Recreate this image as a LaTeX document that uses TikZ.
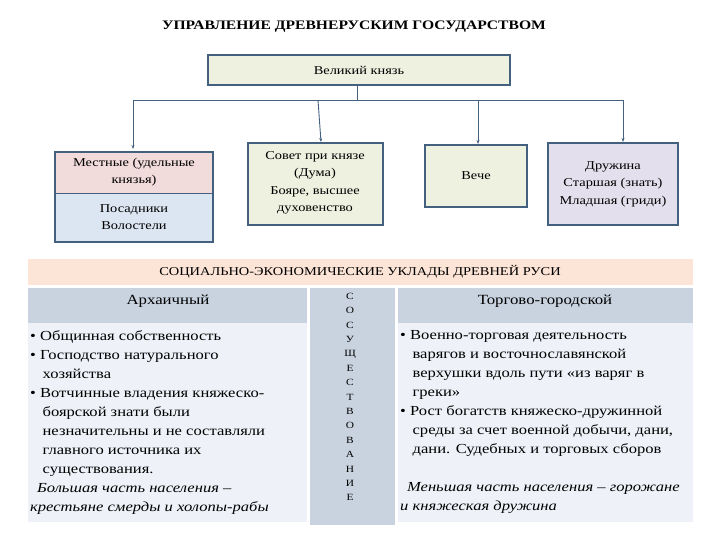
\documentclass[tikz,border=0pt]{standalone}
\usepackage{fontspec}
\setmainfont[FakeStretch=1.2]{Liberation Serif}
\usetikzlibrary{arrows.meta}
\definecolor{bord}{HTML}{44607F}
\definecolor{gfill}{HTML}{EEF0E0}
\definecolor{pink}{HTML}{F2DCDB}
\definecolor{lblue}{HTML}{DCE6F2}
\definecolor{lav}{HTML}{E4DFEC}
\definecolor{peach}{HTML}{FCE4D6}
\definecolor{hdr}{HTML}{C9D3E0}
\definecolor{body}{HTML}{EEF2F8}
\tikzset{box/.style={draw=bord,line width=1.3pt},
 txt/.style={align=center,font=\fontsize{12}{17.5}\selectfont},
 arr/.style={draw=bord,line width=0.9pt,-{Stealth[length=4pt]}},
 ln/.style={draw=bord,line width=0.9pt},
 lst/.style={align=left,anchor=north west,font=\fontsize{13.8}{19}\selectfont,inner sep=0pt}}
\begin{document}
\begin{tikzpicture}[x=1pt,y=-1pt]
\useasboundingbox (0,0) rectangle (720,540);
\node[font=\bfseries\fontsize{13}{15}\selectfont] (title) at (354,27) {УПРАВЛЕНИЕ ДРЕВНЕРУСКИМ ГОСУДАРСТВОМ};
\fill[gfill] (208,55) rectangle (510,85);
\draw[box] (208,55) rectangle (510,85);
\node[txt] (vk) at (359,70) {Великий князь};
% left box
\fill[pink] (55,152) rectangle (213,193);
\fill[lblue] (55,193) rectangle (213,242);
\draw[box] (55,152) rectangle (213,242);
\draw[bord,line width=0.8pt] (55,193) -- (213,193);
\node[txt] (m) at (134,172) {Местные (удельные\\князья)};
\node[txt] (p) at (134,217) {Посадники\\Волостели};
\fill[gfill] (248,143) rectangle (383,225); \draw[box] (248,143) rectangle (383,225);
\node[txt] (sov) at (315,183) {Совет при князе\\(Дума)\\Бояре, высшее\\духовенство};
\fill[gfill] (425,145) rectangle (527,207); \draw[box] (425,145) rectangle (527,207);
\node[txt] (ve) at (476,176) {Вече};
\fill[lav] (548,143) rectangle (678,225); \draw[box] (548,143) rectangle (678,225);
\node[txt] (dr) at (613,184) {Дружина\\Старшая (знать)\\Младшая (гриди)};
% connectors
\coordinate (j) at (357,100);
\coordinate (l) at (133,100); \coordinate (r) at (623,100);
\draw[ln] (357,85) -- (j);
\draw[ln] (l) -- (r);
\draw[arr] (l) -- (133,149);
\draw[arr] (318,100) -- (321,142);
\draw[arr] (478,100) -- (478,144);
\draw[arr] (r) -- (623,142);
% band
\fill[peach] (28,259) rectangle (693,285);
\node[txt] (band) at (360,272) {СОЦИАЛЬНО-ЭКОНОМИЧЕСКИЕ УКЛАДЫ ДРЕВНЕЙ РУСИ};
% lower table
\fill[hdr] (28,288) rectangle (307,323);
\fill[body] (28,323) rectangle (307,522);
\fill[hdr] (310,288) rectangle (395,525);
\fill[hdr] (398,288) rectangle (693,323);
\fill[body] (398,323) rectangle (693,522);
\node[font=\fontsize{14}{16}\selectfont] (a) at (168,301) {Архаичный};
\node[font=\fontsize{14}{16}\selectfont] (t) at (545,301) {Торгово-городской};
\node[align=center,font=\fontsize{9.5}{14.4}\selectfont] (s) at (350,397) {С\\О\\С\\У\\Щ\\Е\\С\\Т\\В\\О\\В\\А\\Н\\И\\Е};
\node[lst] (lt) at (30,330) {\textbullet\ Общинная собственность\\
\textbullet\ Господство натурального\\
\hspace*{0.9em}хозяйства\\
\textbullet\ Вотчинные владения княжеско-\\
\hspace*{0.9em}боярской знати были\\
\hspace*{0.9em}незначительны и не составляли\\
\hspace*{0.9em}главного источника их\\
\hspace*{0.9em}существования.\\
\hspace*{0.5em}\textit{Большая часть населения –}\\
\textit{крестьяне смерды и холопы-рабы}};
\node[lst] (rt) at (400,330) {\textbullet\ Военно-торговая деятельность\\
\hspace*{0.9em}варягов и восточнославянской\\
\hspace*{0.9em}верхушки вдоль пути «из варяг в\\
\hspace*{0.9em}греки»\\
\textbullet\ Рост богатств княжеско-дружинной\\
\hspace*{0.9em}среды за счет военной добычи, дани,\\
\hspace*{0.9em}дани. Судебных и торговых сборов\\[19pt]
\hspace*{0.5em}\textit{Меньшая часть населения – горожане}\\
\textit{и княжеская дружина}};
\end{tikzpicture}
\end{document}
